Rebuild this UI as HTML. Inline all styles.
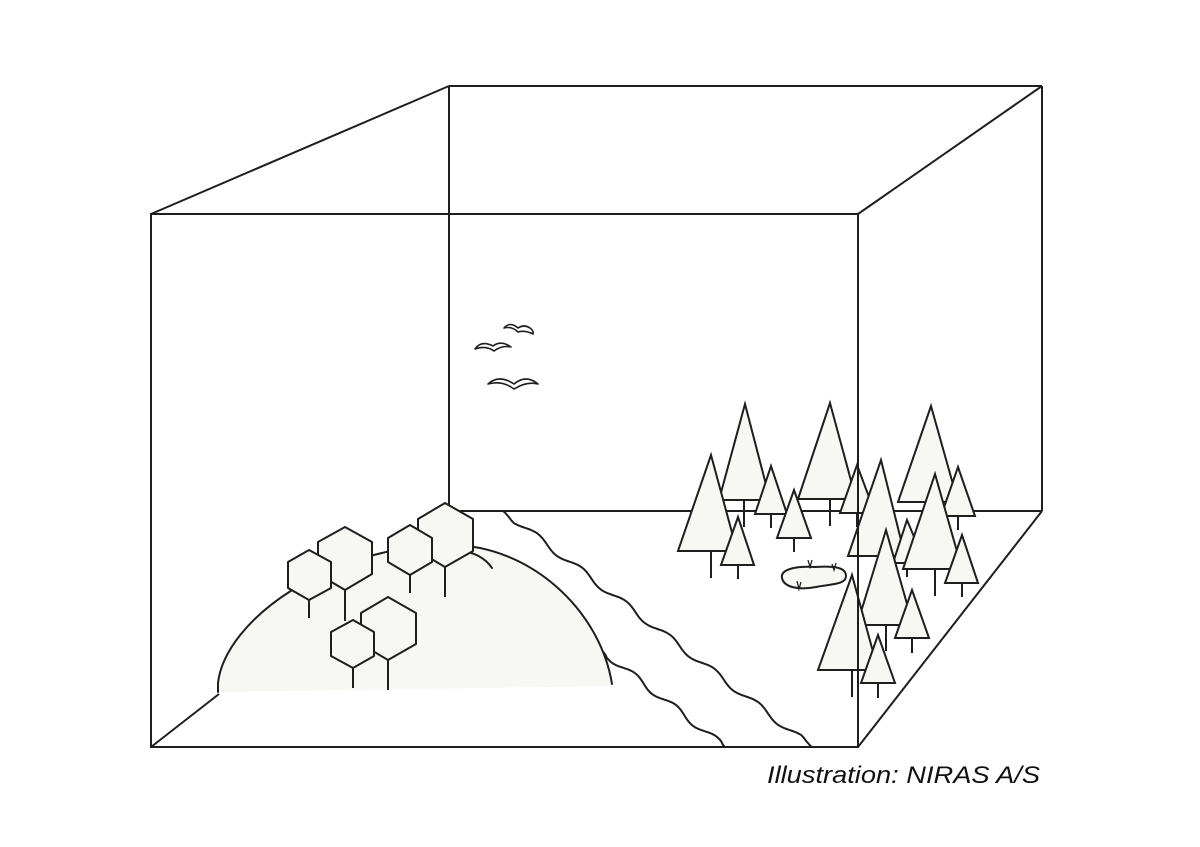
<!DOCTYPE html>
<html><head><meta charset="utf-8"><style>
html,body{margin:0;padding:0;background:#fff;}
svg{display:block;}
</style></head><body>
<svg width="1200" height="847" viewBox="0 0 1200 847" xmlns="http://www.w3.org/2000/svg">
<g fill="none" stroke="#1e1e1e" stroke-width="2" stroke-linejoin="round">
<line x1="449" y1="86" x2="1042" y2="86"/>
<line x1="449" y1="86" x2="449" y2="511"/>
<line x1="1042" y1="86" x2="1042" y2="511"/>
<line x1="449" y1="511" x2="1042" y2="511"/>
<line x1="151" y1="214" x2="449" y2="86"/>
<line x1="858" y1="214" x2="1042" y2="86"/>
<line x1="858" y1="747" x2="1042" y2="511"/>
<line x1="151" y1="747" x2="219" y2="694"/>
</g>
<path d="M218,692 L218,683 C225,620 330,545 450,545 C530,545 600,610 612,686 Z" fill="#f7f7f4" stroke="none"/>
<g fill="none" stroke="#1e1e1e" stroke-width="2" stroke-linejoin="round" stroke-linecap="round">
<path d="M218,692 L218,683 C225,620 330,545 450,545 C530,545 600,610 612,684"/>
<path d="M458,550 Q482,553 492,568"/>
<path id="r1" d=""/>
<path id="r2" d=""/>
</g>
<g fill="#fff" stroke="#1e1e1e" stroke-width="1.6" stroke-linejoin="round">
<path d="M504,328 Q510,321 518,328 Q524,324 530,328 Q534,331 533,334 Q525,330 518,332 Q512,326 504,328 Z"/>
<path d="M475,349 Q481,340 493,346 Q501,340 511,347 Q502,345 494,351 Q486,345 475,349 Z"/>
<path d="M488,384 Q499,374 514,384 Q526,374 538,384 Q527,381 514,389 Q502,380 488,384 Z"/>
</g>
<g fill="#f7f7f4" stroke="#1e1e1e" stroke-width="2" stroke-linejoin="round">
<line x1="309" y1="600" x2="309" y2="618"/>
<line x1="345" y1="590" x2="345" y2="621"/>
<line x1="410" y1="574" x2="410" y2="593"/>
<line x1="445" y1="565" x2="445" y2="597"/>
<polygon points="445,503 473,519 473,551 445,567 418,551 418,519"/>
<polygon points="410,525 432,538 432,562 410,575 388,562 388,538"/>
<polygon points="345,527 372,542 372,574 345,590 318,574 318,542"/>
<polygon points="309,550 331,562 331,588 309,600 288,588 288,562"/>
<line x1="388" y1="659" x2="388" y2="690"/>
<line x1="353" y1="668" x2="353" y2="688"/>
<polygon points="388,597 416,613 416,644 388,660 361,644 361,613"/>
<polygon points="353,620 374,632 374,656 353,668 331,656 331,632"/>
</g>
<rect x="151" y="214" width="707" height="533" fill="none" stroke="#1e1e1e" stroke-width="2"/>
<g fill="#f7f7f4" stroke="#1e1e1e" stroke-width="2">
<path d="M782,578 C780,568 800,566 815,567 C830,566 846,566 846,576 C846,585 830,584 816,587 C800,590 784,588 782,578 Z"/>
</g>
<g fill="none" stroke="#1e1e1e" stroke-width="1.3">
<path d="M808,560 L810,567 L812,560"/><path d="M832,564 L834,570 L836,563"/><path d="M797,581 L799,589 L801,582"/>
</g>
<g fill="#f7f7f4" stroke="#1e1e1e" stroke-width="2" stroke-linejoin="miter">
<line x1="744" y1="500" x2="744" y2="527"/><polygon points="745,404 770,500 719,500"/>
<line x1="830" y1="499" x2="830" y2="526"/><polygon points="830,403 856,499 798,499"/>
<line x1="931" y1="502" x2="931" y2="528"/><polygon points="931,406 958,502 898,502"/>
<line x1="771" y1="514" x2="771" y2="528"/><polygon points="771,466 787,514 755,514"/>
<line x1="857" y1="513" x2="857" y2="527"/><polygon points="857,465 875,513 840,513"/>
<line x1="958" y1="516" x2="958" y2="530"/><polygon points="958,467 975,516 941,516"/>
<line x1="794" y1="538" x2="794" y2="552"/><polygon points="794,490 811,538 777,538"/>
<line x1="711" y1="551" x2="711" y2="578"/><polygon points="711,455 737,551 678,551"/>
<line x1="738" y1="565" x2="738" y2="579"/><polygon points="738,517 754,565 721,565"/>
<line x1="881" y1="556" x2="881" y2="572"/><polygon points="881,460 905,556 848,556"/>
<line x1="907" y1="563" x2="907" y2="577"/><polygon points="907,520 925,563 893,563"/>
<line x1="935" y1="569" x2="935" y2="596"/><polygon points="935,474 962,569 903,569"/>
<line x1="962" y1="583" x2="962" y2="597"/><polygon points="962,535 978,583 945,583"/>
<line x1="886" y1="625" x2="886" y2="651"/><polygon points="886,530 913,625 857,625"/>
<line x1="912" y1="638" x2="912" y2="653"/><polygon points="912,590 929,638 895,638"/>
<line x1="852" y1="670" x2="852" y2="697"/><polygon points="852,575 878,670 818,670"/>
<line x1="878" y1="683" x2="878" y2="698"/><polygon points="878,635 895,683 861,683"/>
</g>
<line x1="858" y1="214" x2="858" y2="747" stroke="#1e1e1e" stroke-width="2"/>
<text x="767" y="783" font-family="Liberation Sans, sans-serif" font-style="italic" font-size="24" fill="#111" textLength="273" lengthAdjust="spacingAndGlyphs">Illustration: NIRAS A/S</text>
</svg>
<script>
function wave(x0,y0,x1,y1,n,a){var dx=x1-x0,dy=y1-y0,L=Math.hypot(dx,dy),nx=-dy/L,ny=dx/L,d="";var N=200;for(var i=0;i<=N;i++){var t=i/N,o=a*Math.sin(t*n*2*Math.PI)*Math.min(1,i/8,(N-i)/8);var x=x0+dx*t+nx*o,y=y0+dy*t+ny*o;d+=(i?"L":"M")+x.toFixed(1)+","+y.toFixed(1);}return d;}
document.getElementById("r1").setAttribute("d",wave(503,511,812,747,7,3));
document.getElementById("r2").setAttribute("d",wave(603,652,725,747,3,3));
</script>
</body></html>
